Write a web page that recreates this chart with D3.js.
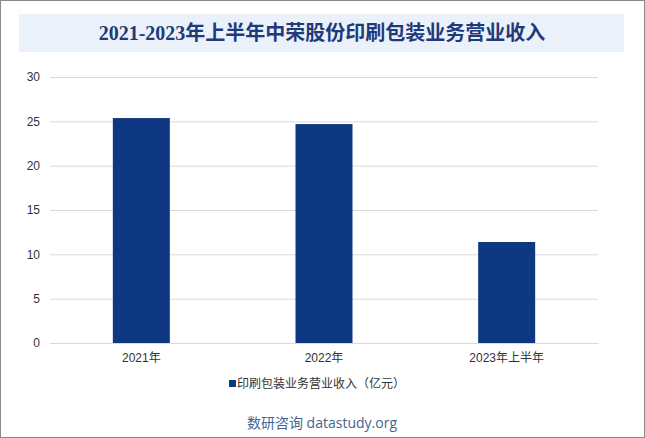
<!DOCTYPE html>
<html><head><meta charset="utf-8">
<script src="https://cdn.jsdelivr.net/npm/d3@7"></script>
<style>body{margin:0;background:#fff}svg{display:block}</style>
</head><body>
<svg id="c" width="645" height="438"></svg>
<script>
const categories = ["2021年", "2022年", "2023年上半年"];
const values = [25.37, 24.69, 11.39];
const yTicks = [0, 5, 10, 15, 20, 25, 30];
const title = "2021-2023年上半年中荣股份印刷包装业务营业收入";
const seriesName = "印刷包装业务营业收入（亿元）";
const footer = "数研咨询 datastudy.org";

const svg = d3.select("#c");
const W = 645, H = 438;
const m = {l: 50, r: 47, t: 77, b: 95};
const font = "'Liberation Sans','Noto Sans CJK SC',Arial,sans-serif";

svg.append("rect").attr("x",0.5).attr("y",0.5).attr("width",W-1).attr("height",H-1)
  .attr("fill","#fff").attr("stroke","#898989");
svg.append("rect").attr("x",19).attr("y",14).attr("width",605).attr("height",38).attr("fill","#EAF1FB");
svg.append("text").attr("x",322).attr("y",40).attr("text-anchor","middle")
  .attr("font-family","'Liberation Serif','Noto Sans CJK SC',serif").attr("font-weight","bold")
  .attr("font-size",20).attr("fill","#1F3A78").text(title);

const x = d3.scaleBand().domain(categories).range([m.l, W-m.r]).paddingInner(0.688).paddingOuter(0.344);
const y = d3.scaleLinear().domain([0,30]).range([H-m.b, m.t]);

const ga = svg.append("g").attr("transform",`translate(${m.l},0)`)
  .call(d3.axisLeft(y).tickValues(yTicks).tickSize(-(W-m.l-m.r)).tickPadding(10));
ga.select(".domain").remove();
ga.selectAll("line").attr("stroke","#d9d9d9");
ga.selectAll("text").attr("font-family",font).attr("font-size",12).attr("fill","#333");

svg.selectAll("rect.bar").data(values).join("rect").attr("class","bar")
  .attr("x",(d,i)=>x(categories[i])).attr("width",x.bandwidth())
  .attr("y",d=>y(d)).attr("height",d=>y(0)-y(d)).attr("fill","#0E3882");

const gx = svg.append("g").attr("transform",`translate(0,${H-m.b})`)
  .call(d3.axisBottom(x).tickSize(0).tickPadding(10));
gx.select(".domain").attr("stroke","#d9d9d9");
gx.selectAll("text").attr("font-family",font).attr("font-size",12).attr("fill","#333");

svg.append("rect").attr("x",229).attr("y",380).attr("width",7).attr("height",7).attr("fill","#0E3882");
svg.append("text").attr("x",237).attr("y",388).attr("font-family",font).attr("font-size",12)
  .attr("fill","#333").text(seriesName);

svg.append("text").attr("x",322).attr("y",428).attr("text-anchor","middle")
  .attr("font-family","'Open Sans','Noto Sans CJK SC',sans-serif").attr("font-size",14).attr("fill","#3F6592").text(footer);
</script>
</body></html>
